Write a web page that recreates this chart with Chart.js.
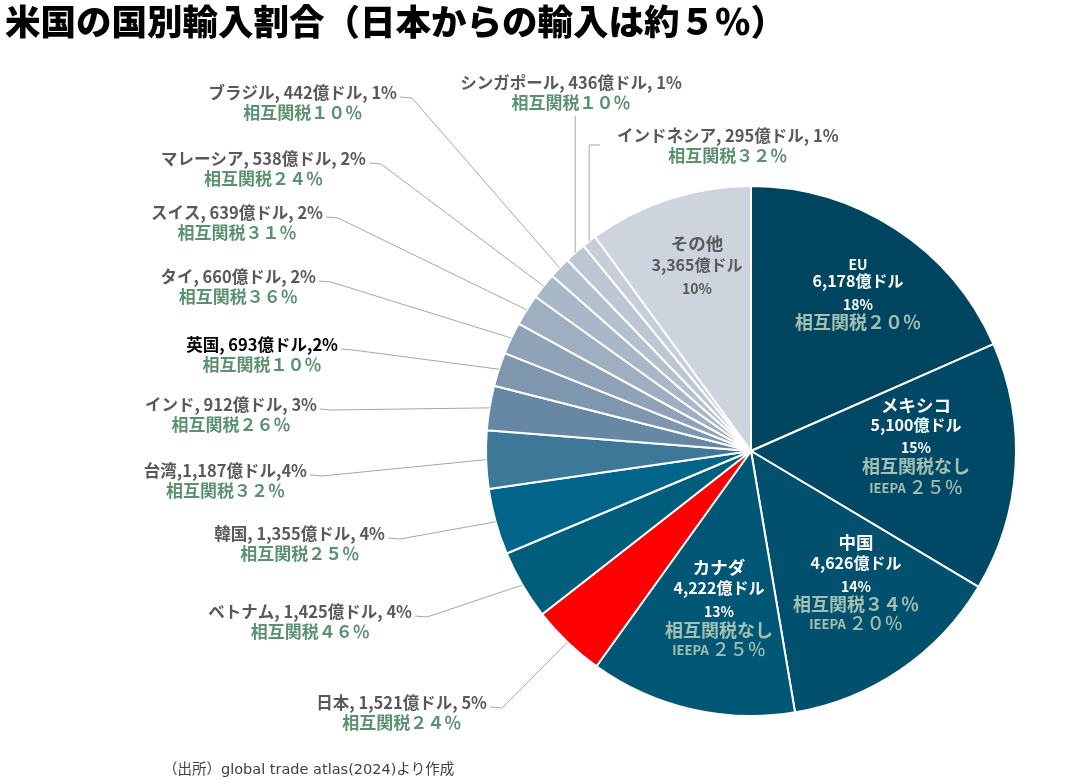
<!DOCTYPE html>
<html lang="ja">
<head>
<meta charset="utf-8">
<script src="https://cdn.jsdelivr.net/npm/chart.js@4.4.1/dist/chart.umd.min.js"></script>
<style>
  html, body { margin: 0; padding: 0; background: #fff; }
  #wrap { width: 1067px; height: 779px; position: relative; }
</style>
</head>
<body>
<div id="wrap"><canvas id="c" width="1067" height="779"></canvas></div>
<script>
// ---- data ----
const countries = ['EU','メキシコ','中国','カナダ','日本','ベトナム','韓国','台湾','インド','英国','タイ','スイス','マレーシア','ブラジル','シンガポール','インドネシア','その他'];
const importValues = [6178, 5100, 4626, 4222, 1521, 1425, 1355, 1187, 912, 693, 660, 639, 538, 442, 436, 295, 3365]; // 億ドル
const sharePct = [18, 15, 14, 13, 5, 4, 4, 4, 3, 2, 2, 2, 2, 1, 1, 1, 10];
const tariffs = ['相互関税２０％','相互関税なし','相互関税３４％','相互関税なし','相互関税２４％','相互関税４６％','相互関税２５％','相互関税３２％','相互関税２６％','相互関税１０％','相互関税３６％','相互関税３１％','相互関税２４％','相互関税１０％','相互関税１０％','相互関税３２％',''];
const ieepa = ['','２５％','２０％','２５％','','','','','','','','','','','','',''];
// label text patterns as written in the source ({n}=name, {v}=value, {p}=share)
const labelPatterns = ['', '', '', '', '{n}, {v}億ドル, {p}%', '{n}, {v}億ドル, {p}%', '{n}, {v}億ドル, {p}%', '{n},{v}億ドル,{p}%', '{n}, {v}億ドル, {p}%', '{n}, {v}億ドル,{p}%', '{n}, {v}億ドル, {p}%', '{n}, {v}億ドル, {p}%', '{n}, {v}億ドル, {p}%', '{n}, {v}億ドル, {p}%', '{n}, {v}億ドル, {p}%', '{n}, {v}億ドル, {p}%', ''];
const titleText = '米国の国別輸入割合（日本からの輸入は約５％）';
const sourceText = '（出所）global trade atlas(2024)より作成';

// ---- styles ----
const sliceColors = ['#00455F','#004966','#00506E','#005675','#FF0000','#005E7D','#006588','#3D7898','#6688A5','#7E97AE','#8EA3B8','#9DAFC1','#A9B8C8','#B3C0CE','#BCC7D3','#C5CED9','#CDD4DE'];
const JP = '"Noto Sans CJK JP", "Noto Sans", sans-serif';
const GRAY = '#595959';
const GREEN = '#5B9070';
const LIGHTGREEN = '#A3C0B0';

// outside label layout: index -> {x: right end of line1 (or left/center), y: line1 center, mode}
const outsideLayout = {
  4:  {x: 487, y: 703, mode: 'left'},
  5:  {x: 412, y: 612, mode: 'left'},
  6:  {x: 385, y: 534, mode: 'left'},
  7:  {x: 307, y: 471, mode: 'left'},
  8:  {x: 317, y: 405, mode: 'left'},
  9:  {x: 338, y: 345, mode: 'left'},
  10: {x: 316, y: 277, mode: 'left'},
  11: {x: 323, y: 213, mode: 'left'},
  12: {x: 366, y: 159, mode: 'left'},
  13: {x: 397, y: 93,  mode: 'left'},
  14: {x: 571, y: 83,  mode: 'top'},
  15: {x: 617, y: 136, mode: 'right'}
};
// inside label layout
const insideLayout = {
  0:  {x: 858, ys: [265, 281, 305, 322]},
  1:  {x: 916, ys: [405, 425, 448, 466, 487]},
  2:  {x: 856, ys: [542, 563, 587, 604, 623]},
  3:  {x: 719, ys: [567, 588, 612, 630, 649]},
  16: {x: 697, ys: [243, 265, 289]}
};

function fmt(v) { return v.toLocaleString('en-US'); }

const labelPlugin = {
  id: 'labels',
  afterDraw(chart) {
    const ctx = chart.ctx;
    const meta = chart.getDatasetMeta(0);
    ctx.save();
    ctx.textBaseline = 'middle';

    // title
    ctx.fillStyle = '#000';
    ctx.font = '900 35.5px ' + JP;
    ctx.textAlign = 'left';
    ctx.fillText(titleText, 5, 22);

    // source
    ctx.fillStyle = '#404040';
    ctx.font = '14.5px "DejaVu Sans", ' + JP;
    ctx.fillText(sourceText, 163, 770);

    function edgePoint(i) {
      const a = meta.data[i].getProps(['startAngle','endAngle','outerRadius','x','y'], true);
      const m = (a.startAngle + a.endAngle) / 2;
      return {x: a.x + Math.cos(m) * a.outerRadius, y: a.y + Math.sin(m) * a.outerRadius};
    }

    // outside labels
    Object.keys(outsideLayout).forEach(k => {
      const i = +k;
      const L = outsideLayout[i];
      const line1 = labelPatterns[i].replace('{n}', countries[i]).replace('{v}', fmt(importValues[i])).replace('{p}', sharePct[i]);
      ctx.font = 'bold 16.5px ' + JP;
      const w1 = ctx.measureText(line1).width;
      let cx;
      if (L.mode === 'left') cx = L.x - w1 / 2;
      else if (L.mode === 'right') cx = L.x + w1 / 2;
      else cx = L.x;
      ctx.textAlign = 'center';
      ctx.fillStyle = (i === 9) ? '#000' : GRAY;
      ctx.fillText(line1, cx, L.y);
      ctx.font = 'bold 17px ' + JP;
      ctx.fillStyle = GREEN;
      ctx.fillText(tariffs[i], cx, L.y + 20);

      // leader line
      const e = edgePoint(i);
      ctx.strokeStyle = '#A6A6A6';
      ctx.lineWidth = 1;
      ctx.beginPath();
      if (L.mode === 'left') {
        const sx = L.x + 3, sy = L.y + 4;
        ctx.moveTo(sx, sy);
        ctx.lineTo(sx + 12, sy + 1);
        ctx.lineTo(e.x, e.y);
      } else if (L.mode === 'top') {
        ctx.moveTo(e.x, L.y + 33);
        ctx.lineTo(e.x, e.y);
      } else {
        const hy = L.y + 9;
        ctx.moveTo(L.x - 17, hy);
        ctx.lineTo(e.x, hy);
        ctx.lineTo(e.x, e.y);
      }
      ctx.stroke();
    });

    // inside labels
    Object.keys(insideLayout).forEach(k => {
      const i = +k;
      const L = insideLayout[i];
      const isOther = (i === 16);
      const main = isOther ? GRAY : '#FFFFFF';
      ctx.textAlign = 'center';
      ctx.fillStyle = main;
      ctx.font = (i === 0 ? 'bold 14px ' : 'bold 17.5px ') + JP;
      ctx.fillText(countries[i], L.x, L.ys[0]);
      ctx.font = 'bold 16px ' + JP;
      ctx.fillText(fmt(importValues[i]) + '億ドル', L.x, L.ys[1]);
      ctx.font = 'bold 14px ' + JP;
      ctx.fillText(sharePct[i] + '%', L.x, L.ys[2]);
      if (tariffs[i]) {
        ctx.fillStyle = LIGHTGREEN;
        ctx.font = 'bold 18px ' + JP;
        ctx.fillText(tariffs[i], L.x, L.ys[3]);
      }
      if (ieepa[i]) {
        ctx.fillStyle = LIGHTGREEN;
        const p1 = 'IEEPA', p2 = ieepa[i];
        ctx.font = 'bold 13px ' + JP;
        const w1 = ctx.measureText(p1).width;
        ctx.font = '500 18px ' + JP;
        const w2 = ctx.measureText(p2).width;
        const start = L.x - (w1 + 3 + w2) / 2;
        ctx.textAlign = 'left';
        ctx.font = 'bold 13px ' + JP;
        ctx.fillText(p1, start, L.ys[4] + 1);
        ctx.font = '500 18px ' + JP;
        ctx.fillText(p2, start + w1 + 3, L.ys[4]);
      }
    });
    ctx.restore();
  }
};

new Chart(document.getElementById('c'), {
  type: 'pie',
  data: {
    labels: countries,
    datasets: [{
      data: importValues,
      backgroundColor: sliceColors,
      borderColor: '#FFFFFF',
      borderWidth: 2,
      hoverOffset: 0
    }]
  },
  options: {
    responsive: false,
    animation: false,
    layout: { padding: { left: 485, right: 50, top: 185, bottom: 62 } },
    plugins: { legend: { display: false }, tooltip: { enabled: false }, title: { display: false } }
  },
  plugins: [labelPlugin]
});
</script>
</body>
</html>
